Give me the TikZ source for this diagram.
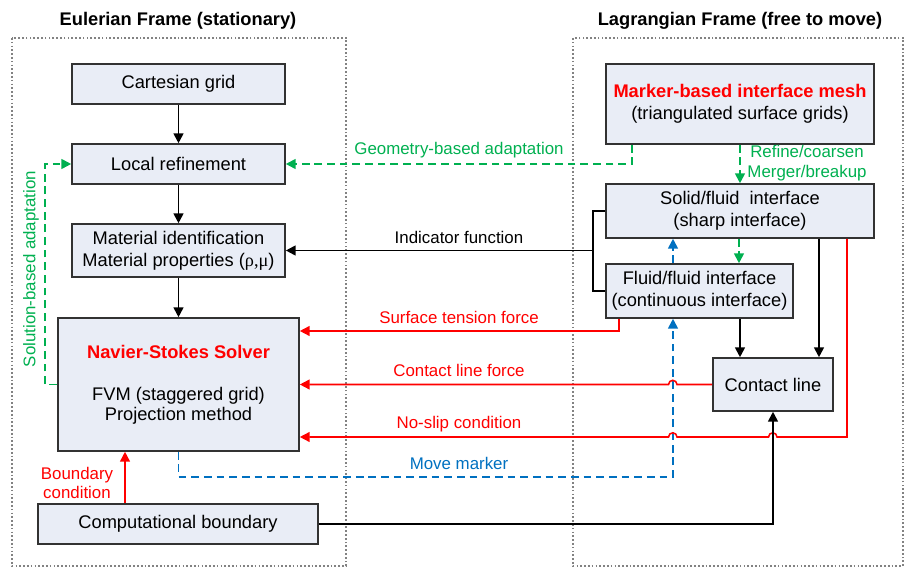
\documentclass[tikz,border=0pt]{standalone}
\usepackage{fontspec}
\setmainfont{Liberation Sans}
\newfontfamily\grk{Liberation Serif}
\usetikzlibrary{arrows.meta}
\definecolor{boxfill}{RGB}{233,237,246}
\definecolor{boxline}{RGB}{50,50,50}
\definecolor{adaptc}{RGB}{0,176,80}
\definecolor{movec}{RGB}{0,112,192}
\definecolor{framec}{RGB}{130,130,130}

\begin{document}
\begin{tikzpicture}[x=0.025cm,y=-0.025cm,
  box/.style={draw=boxline,fill=boxfill,line width=1.1pt,align=center,inner sep=0pt,font=\fontsize{13}{15.5}\selectfont},
  frame/.style={draw=framec,line width=1pt,dash pattern=on 1.2pt off 1.5pt},
  conn/.style={line width=1.3pt,-{Triangle[length=7pt,width=7pt]}},
  blk/.style={conn,black},
  force/.style={conn,red,line width=1.1pt},
  adaptline/.style={conn,adaptc,dash pattern=on 5.5pt off 3.5pt},
  moveline/.style={conn,movec,dash pattern=on 5.5pt off 3.5pt},
  lbl/.style={font=\fontsize{12}{14}\selectfont,align=center},
  title/.style={font=\bfseries\fontsize{13}{15}\selectfont}]
\useasboundingbox (0,0) rectangle (904,569);
\draw[frame] (12,38) rectangle (346,566);
\draw[frame] (573,38) rectangle (903,566);
\node[title] (eultitle) at (178,21) {Eulerian Frame (stationary)};
\node[title] (lagtitle) at (740,21) {Lagrangian Frame (free to move)};

\node[box,minimum width=5.325cm,minimum height=1cm] (cart) at (178.5,84) {Cartesian grid};
\node[box,minimum width=5.325cm,minimum height=1cm] (refine) at (178.5,164) {Local refinement};
\node[box,minimum width=5.325cm,minimum height=1.325cm] (mater) at (178.5,250.5) {Material identification\\Material properties ({\grk ρ,μ})};
\node[box,minimum width=6.025cm,minimum height=3.325cm,font=\fontsize{13}{14}\selectfont] (ns) at (178.5,384.5) {{\bfseries\color{red}Navier-Stokes Solver}\\[16pt]FVM (staggered grid)\\Projection method};
\node[box,minimum width=7cm,minimum height=1cm] (cbound) at (178,524) {Computational boundary};
\node[box,minimum width=6.7cm,minimum height=2cm] (mesh) at (740,104) {{\bfseries\color{red}Marker-based interface mesh}\\(triangulated surface grids)};
\node[box,minimum width=6.7cm,minimum height=1.35cm] (solid) at (740,211) {Solid/fluid~ interface\\(sharp interface)};
\node[box,minimum width=4.675cm,minimum height=1.35cm] (fluid) at (699.5,291) {Fluid/fluid interface\\(continuous interface)};
\node[box,minimum width=3cm,minimum height=1.325cm] (cline) at (773,384.5) {Contact line};

\draw[blk] (cart) -- (refine);
\draw[blk] (refine) -- (mater);
\draw[blk] (mater) -- (ns);

\coordinate (geo) at (632,164);
\draw[adaptline] (mesh.south -| geo) -- (geo) -- (refine.east);
\node[lbl,text=adaptc] (geolbl) at (459,150) {Geometry-based adaptation};
\coordinate (sol) at (45,384.5);
\draw[adaptline] (ns.west) -- (sol) -- (sol |- refine.west) -- (refine.west);
\node[lbl,text=adaptc,rotate=90] (sollbl) at (31,269) {Solution-based adaptation};
\draw[adaptline] (mesh.south) -- (solid.north);
\node[lbl,text=adaptc] (reflbl) at (807,163) {Refine/coarsen\\Merger/breakup};
\coordinate (gx) at (739,250);
\draw[adaptline] (solid.south -| gx) -- (fluid.north -| gx);

\coordinate (bx) at (673,477);
\draw[moveline] (fluid.north -| bx) -- (solid.south -| bx);
\draw[moveline] (ns.south) -- (ns.south |- bx) -- (bx) -- (fluid.south -| bx);
\node[lbl,text=movec] (movelbl) at (459,463) {Move marker};

\coordinate (ind) at (593,250.5);
\draw[line width=1.3pt] (solid.west) -- (solid.west -| ind) -- (fluid.west -| ind) -- (fluid.west);
\draw[blk] (ind) -- (mater.east);
\node[lbl] (indlbl) at (459,237) {Indicator function};

\coordinate (st) at (619,331);
\draw[force] (fluid.south -| st) -- (st) -- (st -| ns.east);
\node[lbl,text=red] (stlbl) at (459,317) {Surface tension force};
\draw[force] (cline.west) -- (677,384.5) arc[start angle=0,end angle=180,radius=3pt] -- (ns.east);
\node[lbl,text=red] (cllbl) at (459,370) {Contact line force};
\coordinate (slip) at (847,437);
\draw[force] (solid.south -| slip) -- (slip) -- (777,437) arc[start angle=0,end angle=180,radius=3pt] -- (677,437) arc[start angle=0,end angle=180,radius=3pt] -- (ns.east |- slip);
\node[lbl,text=red] (sliplbl) at (459,424) {No-slip condition};

\coordinate (bc) at (125,483);
\draw[force] (cbound.north -| bc) -- (ns.south -| bc);
\node[lbl,text=red] (bclbl) at (77,483) {Boundary\\condition};

\draw[blk] (cbound.east) -| (cline.south);
\coordinate (fc) at (740,340);
\draw[blk] (fluid.south -| fc) -- (cline.north -| fc);
\coordinate (sc) at (819,340);
\draw[blk] (solid.south -| sc) -- (cline.north -| sc);
\end{tikzpicture}
\end{document}
